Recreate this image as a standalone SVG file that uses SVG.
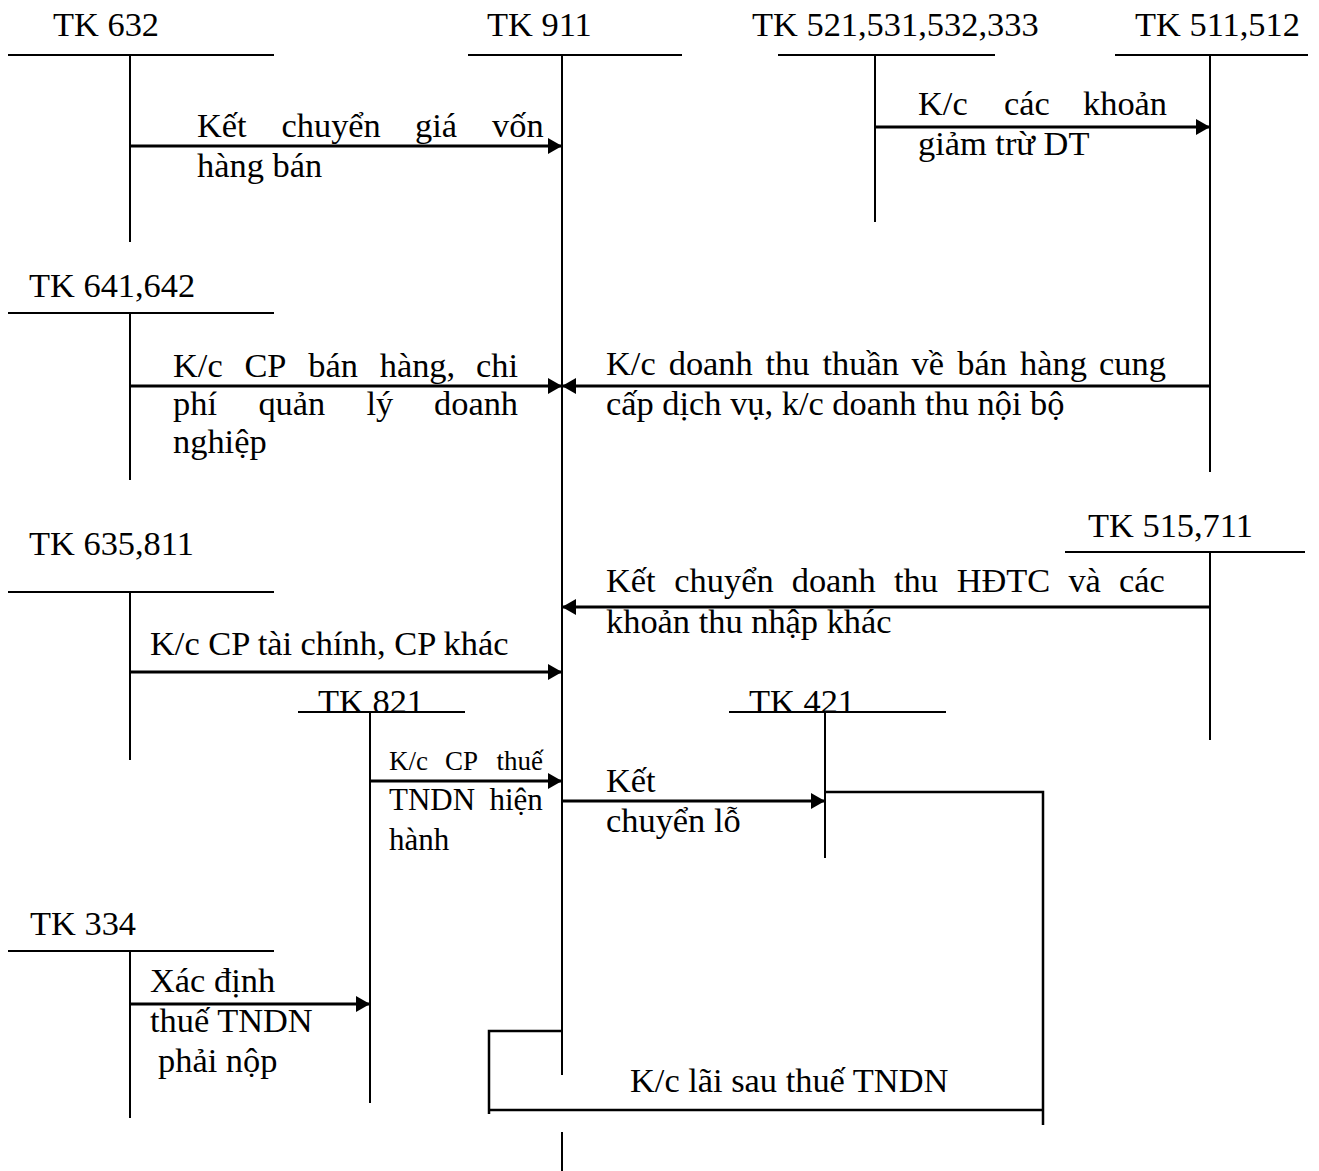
<svg xmlns="http://www.w3.org/2000/svg" width="1319" height="1171" viewBox="0 0 1319 1171">
<style>
text{font-family:"Liberation Serif","Times New Roman",serif;font-size:34.4px;fill:#000}
.t{stroke:#000;stroke-width:2;fill:none}
.a{stroke:#000;stroke-width:3;fill:none;marker-end:url(#ah)}
.b{stroke:#000;stroke-width:2.5;fill:none}
.s24{font-size:27px}
.s27{font-size:31px}
</style>
<defs>
<marker id="ah" markerUnits="userSpaceOnUse" markerWidth="14" markerHeight="16" refX="14" refY="8" orient="auto">
<path d="M0,0 L14,8 L0,16 Z" fill="#000"/>
</marker>
</defs>
<rect width="1319" height="1171" fill="#fff"/>
<g id="tk632"><text x="53" y="36">TK 632</text><path class="t" d="M8,55 H274 M130,55 V242"/></g>
<g id="tk911"><text x="487" y="36">TK 911</text><path class="t" d="M468,55 H682 M562,55 V1075 M562,1132 V1171"/></g>
<g id="tk521"><text x="752" y="36">TK 521,531,532,333</text><path class="t" d="M778,55 H995 M875,55 V222"/></g>
<g id="tk511"><text x="1135" y="36">TK 511,512</text><path class="t" d="M1115,55 H1308 M1210,55 V472"/></g>
<g id="tk641"><text x="29" y="297">TK 641,642</text><path class="t" d="M8,313 H274 M130,313 V480"/></g>
<g id="tk635"><text x="29" y="555">TK 635,811</text><path class="t" d="M8,592 H274 M130,592 V760"/></g>
<g id="tk515"><text x="1088" y="537">TK 515,711</text><path class="t" d="M1065,552 H1305 M1210,552 V740"/></g>
<g id="tk821"><text x="318" y="713">TK 821</text><path class="t" d="M298,712 H465 M370,712 V1103"/></g>
<g id="tk421"><text x="749" y="713">TK 421</text><path class="t" d="M729,712 H946 M825,712 V858"/></g>
<g id="tk334"><text x="30" y="935">TK 334</text><path class="t" d="M8,951 H274 M130,951 V1118"/></g>
<g id="connectors">
<g id="c1"><path class="a" d="M130,146 H562"/>
<text y="137"><tspan x="197">Kết</tspan><tspan x="281.5">chuyển</tspan><tspan x="415">giá</tspan><tspan x="492">vốn</tspan></text>
<text x="197" y="177">hàng bán</text></g>
<g id="c2"><path class="a" d="M875,127 H1210"/>
<text y="115"><tspan x="918">K/c</tspan><tspan x="1004">các</tspan><tspan x="1083">khoản</tspan></text>
<text x="918" y="155">giảm trừ DT</text></g>
<g id="c3"><path class="a" d="M130,386 H562"/>
<text y="377"><tspan x="173">K/c</tspan><tspan x="244.4">CP</tspan><tspan x="308.3">bán</tspan><tspan x="379.7">hàng,</tspan><tspan x="476">chi</tspan></text>
<text y="415"><tspan x="173">phí</tspan><tspan x="258.4">quản</tspan><tspan x="366.4">lý</tspan><tspan x="434">doanh</tspan></text>
<text x="173" y="453">nghiệp</text></g>
<g id="c4"><path class="a" d="M1210,386 H562"/>
<text y="375"><tspan x="606">K/c</tspan><tspan x="668.7">doanh</tspan><tspan x="765.4">thu</tspan><tspan x="822.5">thuần</tspan><tspan x="911.6">về</tspan><tspan x="957.3">bán</tspan><tspan x="1020">hàng</tspan><tspan x="1099">cung</tspan></text>
<text x="606" y="415">cấp dịch vụ, k/c doanh thu nội bộ</text></g>
<g id="c5"><path class="a" d="M1210,607 H562"/>
<text y="592"><tspan x="606">Kết</tspan><tspan x="674.3">chuyển</tspan><tspan x="791.7">doanh</tspan><tspan x="894">thu</tspan><tspan x="956.7">HĐTC</tspan><tspan x="1068.4">và</tspan><tspan x="1119">các</tspan></text>
<text x="606" y="633">khoản thu nhập khác</text></g>
<g id="c6"><path class="a" d="M130,672 H562"/>
<text x="150" y="655">K/c CP tài chính, CP khác</text></g>
<g id="c7"><path class="a" d="M370,781 H562"/>
<text class="s24" y="770"><tspan x="389">K/c</tspan><tspan x="445">CP</tspan><tspan x="496.5">thuế</tspan></text>
<text class="s27" y="810"><tspan x="389">TNDN</tspan><tspan x="489.5">hiện</tspan></text>
<text class="s27" x="389" y="850">hành</text></g>
<g id="c8"><path class="a" d="M562,801 H825"/>
<text x="606" y="792">Kết</text>
<text x="606" y="832">chuyển lỗ</text></g>
<g id="c9"><path class="a" d="M130,1004 H370"/>
<text x="150" y="992">Xác định</text>
<text x="150" y="1032">thuế TNDN</text>
<text x="158" y="1072">phải nộp</text></g>
<g id="c10"><path class="b" d="M562,1031 H489 V1114 M489,1110 H1043 M825,792 H1043 V1125"/>
<text x="630" y="1092">K/c lãi sau thuế TNDN</text></g>
</g>
</svg>
